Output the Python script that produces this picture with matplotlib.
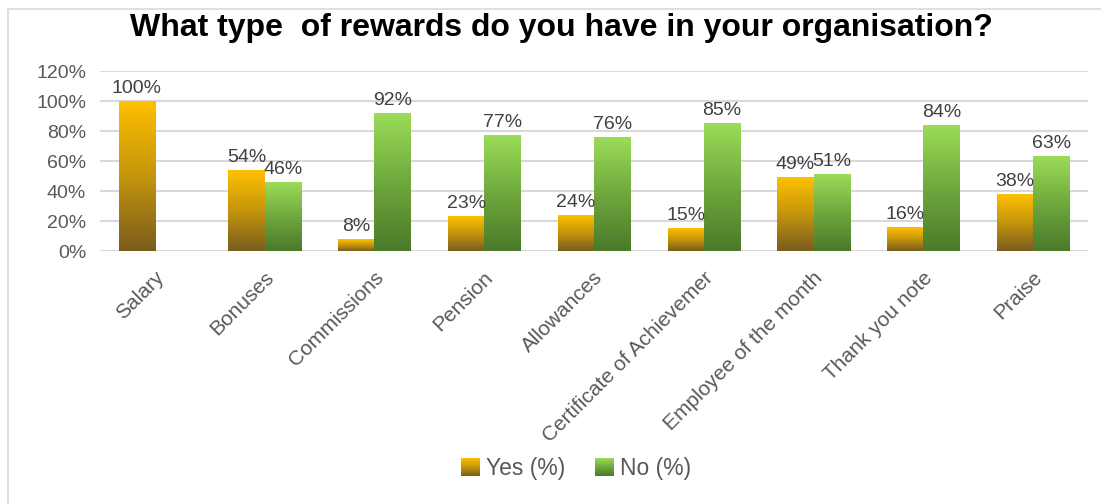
import numpy as np
import matplotlib
matplotlib.use("Agg")
import matplotlib.pyplot as plt
from matplotlib.colors import LinearSegmentedColormap
from matplotlib.legend_handler import HandlerBase
from matplotlib.image import BboxImage
from matplotlib.transforms import Bbox, TransformedBbox, ScaledTranslation
from matplotlib.patches import Rectangle

plt.rcParams['font.family'] = ['Liberation Sans', 'DejaVu Sans']

categories = ["Salary", "Bonuses", "Commissions", "Pension", "Allowances",
              "Certificate of Achievemer", "Employee of the month",
              "Thank you note", "Praise"]
yes_pct = [100, 54, 8, 23, 24, 15, 49, 16, 38]
no_pct = [0, 46, 92, 77, 76, 85, 51, 84, 63]
series_names = ["Yes (%)", "No (%)"]
y_ticks = [0, 20, 40, 60, 80, 100, 120]

# gradients run from the bar's base colour (0) up to its top colour (1)
yes_cmap = LinearSegmentedColormap.from_list("yes", ["#7a5c1e", "#c4950c", "#ffc000"])
no_cmap = LinearSegmentedColormap.from_list("no", ["#4a7a2a", "#6fa83d", "#9bdc58"])

W, H = 1101, 504
fig = plt.figure(figsize=(W / 100, H / 100), dpi=100)
ax = fig.add_axes([100 / W, 1 - 251 / H, 988 / W, 180 / H])

x = np.arange(len(categories))
bw = 0.33
grad = np.linspace(1, 0, 256).reshape(-1, 1)

def gradient_bars(xpos, vals, cmap):
    bars = ax.bar(xpos, vals, bw, color="none", edgecolor="none", zorder=3)
    for b in bars:
        h = b.get_height()
        if h <= 0:
            continue
        x0 = b.get_x()
        ax.imshow(grad, cmap=cmap, vmin=0, vmax=1, aspect="auto",
                  extent=[x0, x0 + b.get_width(), 0, h], zorder=3,
                  interpolation="bilinear")
    return bars

yes_bars = gradient_bars(x - bw / 2, yes_pct, yes_cmap)
no_bars = gradient_bars(x + bw / 2, no_pct, no_cmap)

for bars, vals in ((yes_bars, yes_pct), (no_bars, no_pct)):
    for b, v in zip(bars, vals):
        if v <= 0:
            continue
        ax.annotate(f"{v}%", (b.get_x() + b.get_width() / 2, v),
                    xytext=(0, 3), textcoords="offset points",
                    ha="center", va="bottom", fontsize=14, color="#404040",
                    zorder=5)

ax.set_xlim(-0.5, len(categories) - 0.5)
ax.set_ylim(0, 120)
ax.set_yticks(y_ticks)
ax.set_yticklabels([f"{t}%" for t in y_ticks])
ax.yaxis.grid(True, color="#d9d9d9", linewidth=1.5, zorder=0)
ax.set_axisbelow(True)
for s in ax.spines.values():
    s.set_visible(False)
ax.tick_params(axis="y", length=0, pad=10, labelsize=14, labelcolor="#595959")
ax.tick_params(axis="x", length=0, pad=17, labelsize=15, labelcolor="#595959")
ax.set_xticks(x)
ax.set_xticklabels(categories, rotation=45, ha="right", va="center",
                   rotation_mode="anchor")
shift = ScaledTranslation(6 / 100, 0, fig.dpi_scale_trans)
for lbl in ax.get_xticklabels():
    lbl.set_transform(lbl.get_transform() + shift)

fig.text(561 / W, 1 - 28 / H, "What type  of rewards do you have in your organisation?",
         ha="center", va="center", fontsize=23, fontweight="bold", color="black")

# outer chart frame
fig.patches.append(Rectangle((7.5 / W, -0.1), 1.2, 1 - 8.5 / H + 0.1,
                             transform=fig.transFigure, fill=False,
                             edgecolor="#d9d9d9", linewidth=1.2))


class GradientHandler(HandlerBase):
    def __init__(self, cmap):
        super().__init__()
        self.cmap = cmap

    def create_artists(self, legend, orig_handle, xdescent, ydescent,
                       width, height, fontsize, trans):
        bb = Bbox.from_bounds(-xdescent, -ydescent, width, height)
        img = BboxImage(TransformedBbox(bb, trans), cmap=self.cmap,
                        interpolation="bilinear")
        img.set_clim(0, 1)
        img.set_data(grad)
        return [img]


h_yes = Rectangle((0, 0), 1, 1)
h_no = Rectangle((0, 0), 1, 1)
fig.legend([h_yes, h_no], series_names, loc="center",
           bbox_to_anchor=(576 / W, 1 - 469 / H), ncol=2, frameon=False,
           fontsize=16.5, labelcolor="#595959", handlelength=0.8,
           handleheight=0.8, handletextpad=0.3, columnspacing=1.3,
           handler_map={h_yes: GradientHandler(yes_cmap),
                        h_no: GradientHandler(no_cmap)})

fig.savefig("out.png", dpi=100, facecolor="white")
